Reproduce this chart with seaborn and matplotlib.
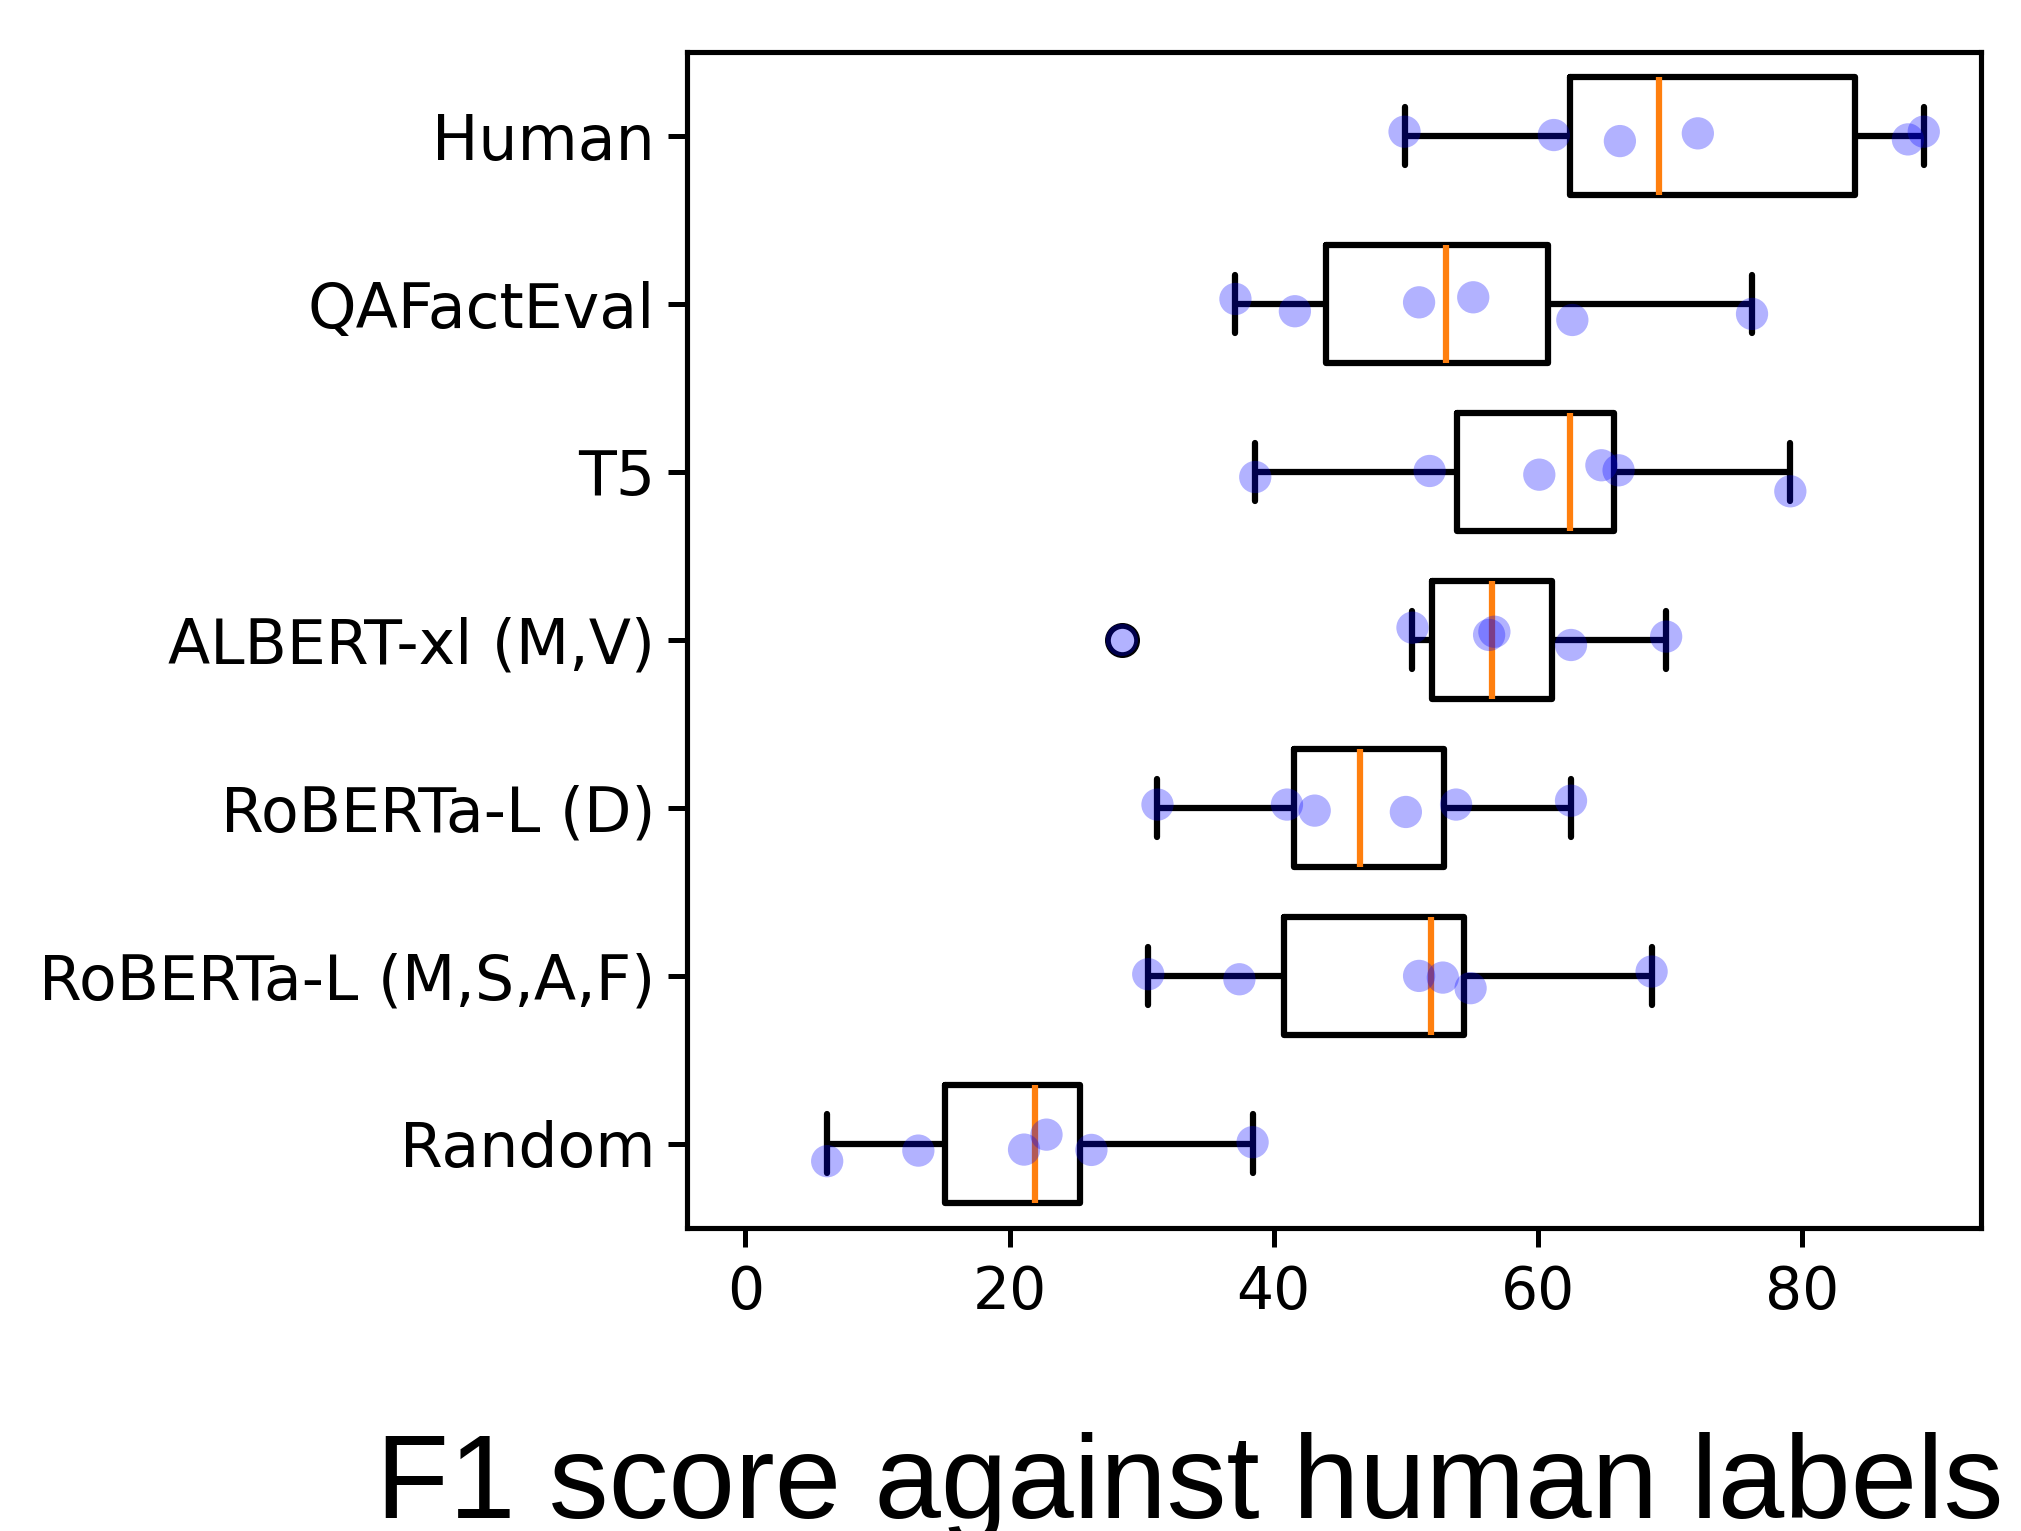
import numpy as np
import pandas as pd
import matplotlib
matplotlib.use("Agg")
import matplotlib.pyplot as plt
import seaborn as sns

# ---- data ----
models = ["Human", "QAFactEval", "T5", "ALBERT-xl (M,V)",
          "RoBERTa-L (D)", "RoBERTa-L (M,S,A,F)", "Random"]

human = [49.9, 61.2, 66.2, 72.1, 88.0, 89.2]
qafacteval = [37.1, 41.6, 51.0, 55.1, 62.6, 76.2]
t5 = [38.6, 51.8, 60.1, 64.8, 66.1, 79.1]
albert = [28.5, 50.5, 56.3, 56.7, 62.5, 69.7]
roberta_d = [31.2, 41.0, 43.1, 50.0, 53.8, 62.5]
roberta_msaf = [30.5, 37.4, 51.0, 52.8, 54.9, 68.6]
random_ = [6.2, 13.1, 21.1, 22.8, 26.2, 38.4]

# vertical jitter of the dots (positive = downward)
human_off = [-0.026, -0.006, 0.030, -0.016, 0.020, -0.026]
qafacteval_off = [-0.030, 0.043, -0.010, -0.040, 0.095, 0.059]
t5_off = [0.030, -0.006, 0.016, -0.040, -0.010, 0.115]
albert_off = [0.000, -0.073, -0.030, -0.049, 0.030, -0.020]
roberta_d_off = [-0.020, -0.020, 0.016, 0.024, -0.020, -0.043]
roberta_msaf_off = [-0.010, 0.020, 0.000, 0.010, 0.073, -0.026]
random_off = [0.103, 0.040, 0.034, -0.055, 0.036, -0.010]

x_ticks = [0, 20, 40, 60, 80]
title_text = "F1 score against human labels"

series = [human, qafacteval, t5, albert, roberta_d, roberta_msaf, random_]
offsets = [human_off, qafacteval_off, t5_off, albert_off,
           roberta_d_off, roberta_msaf_off, random_off]

rows = []
for i, (m, vals, offs) in enumerate(zip(models, series, offsets)):
    for v, o in zip(vals, offs):
        rows.append({"model": m, "score": v, "ypos": i + o})
df = pd.DataFrame(rows)

# ---- figure ----
sns.set_style("ticks")
plt.rcParams["font.family"] = ["DejaVu Sans"]

fig = plt.figure(figsize=(20.21, 15.31), dpi=100)
ax = fig.add_axes([0.340, 0.198, 0.640, 0.768])

LW = 4.5
sns.boxplot(
    data=df, x="score", y="model", order=models, orient="h",
    width=0.7, fill=False, color="black", linewidth=LW, whis=1.5,
    medianprops={"color": "#ff7f0e", "linewidth": LW},
    whiskerprops={"color": "black", "linewidth": LW},
    capprops={"color": "black", "linewidth": LW},
    boxprops={"color": "black", "linewidth": LW},
    flierprops={"marker": "o", "markersize": 21, "markeredgewidth": 4.2,
                "markeredgecolor": "black", "markerfacecolor": "none"},
    ax=ax,
)

sns.scatterplot(data=df, x="score", y="ypos", color="blue", alpha=0.3,
                s=540, edgecolor="none", linewidth=0, ax=ax, legend=False,
                zorder=5)

ax.set_xlim(-4.4, 93.5)
ax.set_ylim(6.5, -0.5)
ax.set_xticks(x_ticks)
ax.set_xticklabels([str(t) for t in x_ticks])
ax.set_yticks(range(len(models)))
ax.set_yticklabels(models)
ax.set_xlabel("")
ax.set_ylabel("")
ax.tick_params(axis="both", length=14, width=3.6, color="black",
               labelcolor="black")
ax.tick_params(axis="x", labelsize=42, pad=12)
ax.tick_params(axis="y", labelsize=44.5, pad=9)
for sp in ax.spines.values():
    sp.set_visible(True)
    sp.set_linewidth(3.7)
    sp.set_color("black")

fig.text(376 / 2021, 13 / 1531, title_text, ha="left", va="baseline",
         fontsize=86, family=["Liberation Sans", "DejaVu Sans"], color="black")

fig.savefig("out.png", dpi=100, facecolor="white")
